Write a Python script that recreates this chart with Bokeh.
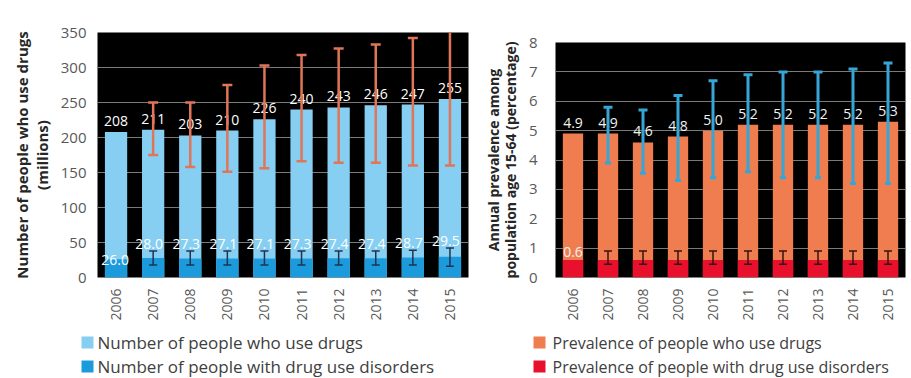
import math
from bokeh.plotting import figure
from bokeh.models import (ColumnDataSource, FactorRange, Range1d, Whisker, TeeHead,
                          SingleIntervalTicker)
from bokeh.layouts import row, column
from bokeh.core.properties import value
from bokeh.embed import file_html
from bokeh.resources import INLINE

# ---------------- data ----------------
years = ["2006", "2007", "2008", "2009", "2010", "2011", "2012", "2013", "2014", "2015"]

users = [208, 211, 203, 210, 226, 240, 243, 246, 247, 255]
users_low = [None, 175, 158, 151, 156, 166, 164, 164, 160, 160]
users_high = [None, 250, 250, 275, 303, 318, 327, 333, 342, 356]

disorders = [26.0, 28.0, 27.3, 27.1, 27.1, 27.3, 27.4, 27.4, 28.7, 29.5]
dis_low = [None, 18, 18, 18, 18, 18, 18, 18, 18, 16]
dis_high = [None, 38, 38, 38, 38, 38, 38, 38, 39, 42]

prev = [4.9, 4.9, 4.6, 4.8, 5.0, 5.2, 5.2, 5.2, 5.2, 5.3]
prev_low = [None, 3.9, 3.55, 3.3, 3.4, 3.6, 3.4, 3.4, 3.2, 3.2]
prev_high = [None, 5.8, 5.7, 6.2, 6.7, 6.9, 7.0, 7.0, 7.1, 7.3]

dprev = [0.6, 0.6, 0.6, 0.6, 0.6, 0.6, 0.6, 0.6, 0.6, 0.6]
dprev_low = [None, 0.45, 0.45, 0.45, 0.45, 0.45, 0.45, 0.45, 0.45, 0.45]
dprev_high = [None, 0.9, 0.9, 0.9, 0.9, 0.9, 0.9, 0.9, 0.9, 0.9]

left_ylabel = "Number of people who use drugs\n(millions)"
right_ylabel = "Annual prevalence among\npopulation age 15-64 (percentage)"
legend_left = ["Number of people who use drugs", "Number of people with drug use disorders"]
legend_right = ["Prevalence of people who use drugs", "Prevalence of people with drug use disorders"]

FONT = "Open Sans"
TICK_COLOR = "#595959"
CHART_H = 323
LEG_H = 378 - CHART_H


def err_source(vals_low, vals_high):
    xs, lo, hi = [], [], []
    for y, l, h in zip(years, vals_low, vals_high):
        if l is not None:
            xs.append(y); lo.append(l); hi.append(h)
    return ColumnDataSource(dict(x=xs, lower=lo, upper=hi))


def style(p, ystep, standoff, label_size, line_h):
    p.background_fill_color = "black"
    p.border_fill_color = "white"
    p.outline_line_color = None
    p.xgrid.grid_line_color = None
    p.ygrid.grid_line_color = "#7a7a7a"
    p.ygrid.grid_line_width = 1
    p.yaxis.ticker = SingleIntervalTicker(interval=ystep)
    for ax in (p.xaxis[0], p.yaxis[0]):
        ax.axis_line_color = None
        ax.major_tick_line_color = None
        ax.minor_tick_line_color = None
        ax.major_label_text_font = FONT
        ax.major_label_text_color = TICK_COLOR
    p.yaxis.major_label_text_font_size = "15px"
    p.yaxis.major_label_standoff = standoff
    p.xaxis.major_label_text_font_size = "14px"
    p.xaxis.major_label_orientation = math.pi / 2
    p.xaxis.major_label_standoff = 5
    p.yaxis.axis_label_text_font = FONT
    p.yaxis.axis_label_text_font_style = "bold"
    p.yaxis.axis_label_text_font_size = label_size
    p.yaxis.axis_label_text_line_height = line_h
    p.yaxis.axis_label_text_color = "#262626"
    p.yaxis.axis_label_standoff = 6
    p.x_range.range_padding = 0
    p.x_range.group_padding = 0


def legend_fig(width, labels, colors, sq_x, txt_x, font_size):
    lf = figure(width=width, height=LEG_H, x_range=Range1d(0, width), y_range=Range1d(LEG_H, 0),
                output_backend="svg", toolbar_location=None,
                x_axis_location=None, y_axis_location=None,
                min_border=0, min_border_left=0, min_border_right=0,
                min_border_top=0, min_border_bottom=0)
    lf.outline_line_color = None
    lf.grid.grid_line_color = None
    lf.background_fill_color = "white"
    lf.border_fill_color = "white"
    ys = [19, 43]
    src = ColumnDataSource(dict(sx=[sq_x] * len(labels), tx=[txt_x] * len(labels),
                                y=ys[:len(labels)], lab=labels, c=colors))
    lf.scatter(x="sx", y="y", marker="square", size=12, fill_color="c", line_color=None, source=src)
    lf.text(x="tx", y="y", text="lab", source=src, text_font=value(FONT), text_font_size=font_size,
            text_color="#404040", text_baseline="middle", text_align="left")
    return lf


# ---------------- left panel ----------------
err_idx = [i for i, h in enumerate(dis_high) if h is not None]
src1 = ColumnDataSource(dict(
    x=years, users=users, disorders=disorders,
    ulab=[f"{v:.0f}" for v in users],
))
src1_d = ColumnDataSource(dict(
    x=[years[i] for i in err_idx],
    y=[dis_high[i] for i in err_idx],
    lab=[f"{disorders[i]:.1f}" for i in err_idx],
))
src1_d0 = ColumnDataSource(dict(
    x=[years[i] for i in range(len(years)) if i not in err_idx],
    y=[disorders[i] for i in range(len(years)) if i not in err_idx],
    lab=[f"{disorders[i]:.1f}" for i in range(len(years)) if i not in err_idx],
))

p1 = figure(x_range=FactorRange(*years), y_range=Range1d(0, 350),
            width=480, height=CHART_H, output_backend="svg", toolbar_location=None,
            min_border_left=97, min_border_right=12, min_border_top=32,
            min_border_bottom=CHART_H - 279)
style(p1, 50, 5, "15px", 1.0)
p1.yaxis.axis_label = left_ylabel

r_u = p1.vbar(x="x", top="users", width=0.6, source=src1, fill_color="#86cff2", line_color=None)
r_d = p1.vbar(x="x", top="disorders", width=0.6, source=src1, fill_color="#1c9bdc", line_color=None)

p1.add_layout(Whisker(base="x", lower="lower", upper="upper", source=err_source(users_low, users_high),
                      line_color="#e07558", line_width=2.5, level="overlay",
                      upper_head=TeeHead(size=10, line_color="#e07558", line_width=2.5),
                      lower_head=TeeHead(size=10, line_color="#e07558", line_width=2.5)))
p1.add_layout(Whisker(base="x", lower="lower", upper="upper", source=err_source(dis_low, dis_high),
                      line_color="#1f3350", line_width=1.5, level="overlay",
                      upper_head=TeeHead(size=8, line_color="#1f3350", line_width=1.5),
                      lower_head=TeeHead(size=8, line_color="#1f3350", line_width=1.5)))

p1.text(x="x", y="users", text="ulab", source=src1, text_font=value(FONT), text_font_size="14px",
        text_color="white", text_align="center", text_baseline="middle", y_offset=-11)
p1.text(x="x", y="y", text="lab", source=src1_d, text_font=value(FONT), text_font_size="14px",
        text_color="white", text_align="center", text_baseline="middle", x_offset=-4, y_offset=-7)
p1.text(x="x", y="y", text="lab", source=src1_d0, text_font=value(FONT), text_font_size="14px",
        text_color="white", text_align="center", text_baseline="middle", x_offset=-1, y_offset=1)

# ---------------- right panel ----------------
src2 = ColumnDataSource(dict(
    x=years, prev=prev, dprev=dprev,
    plab=[f"{v:.1f}" for v in prev],
))
src2b = ColumnDataSource(dict(x=years[:1], y=dprev[:1], lab=[f"{v:.1f}" for v in dprev[:1]]))

p2 = figure(x_range=FactorRange(*years), y_range=Range1d(0, 8),
            width=431, height=CHART_H, output_backend="svg", toolbar_location=None,
            min_border_left=72, min_border_right=6, min_border_top=42,
            min_border_bottom=CHART_H - 278)
style(p2, 1, 12, "14px", 0.9)
p2.yaxis.axis_label = right_ylabel

r_p = p2.vbar(x="x", top="prev", width=0.58, source=src2, fill_color="#ef7d50", line_color=None)
r_dp = p2.vbar(x="x", top="dprev", width=0.58, source=src2, fill_color="#e8102c", line_color=None)

p2.add_layout(Whisker(base="x", lower="lower", upper="upper", source=err_source(prev_low, prev_high),
                      line_color="#35a6d6", line_width=3, level="overlay",
                      upper_head=TeeHead(size=9, line_color="#35a6d6", line_width=3),
                      lower_head=TeeHead(size=6, line_color="#35a6d6", line_width=3)))
p2.add_layout(Whisker(base="x", lower="lower", upper="upper", source=err_source(dprev_low, dprev_high),
                      line_color="#3a1212", line_width=1.5, level="overlay",
                      upper_head=TeeHead(size=8, line_color="#3a1212", line_width=1.5),
                      lower_head=TeeHead(size=8, line_color="#3a1212", line_width=1.5)))

p2.text(x="x", y="prev", text="plab", source=src2, text_font=value(FONT), text_font_size="14px",
        text_color="#f2f2f2", text_align="center", text_baseline="middle", y_offset=-11)
p2.text(x="x", y="y", text="lab", source=src2b, text_font=value(FONT), text_font_size="14px",
        text_color="#f2f2f2", text_align="center", text_baseline="middle", y_offset=-8)

# ---------------- legends ----------------
l1 = legend_fig(480, legend_left, ["#86cff2", "#1c9bdc"], 87, 97, "17px")
l2 = legend_fig(431, legend_right, ["#ef7d50", "#e8102c"], 59, 72, "16px")

layout = column(row(column(p1), column(p2)), row(l1, l2))
open("out.html", "w").write(file_html(layout, INLINE))
